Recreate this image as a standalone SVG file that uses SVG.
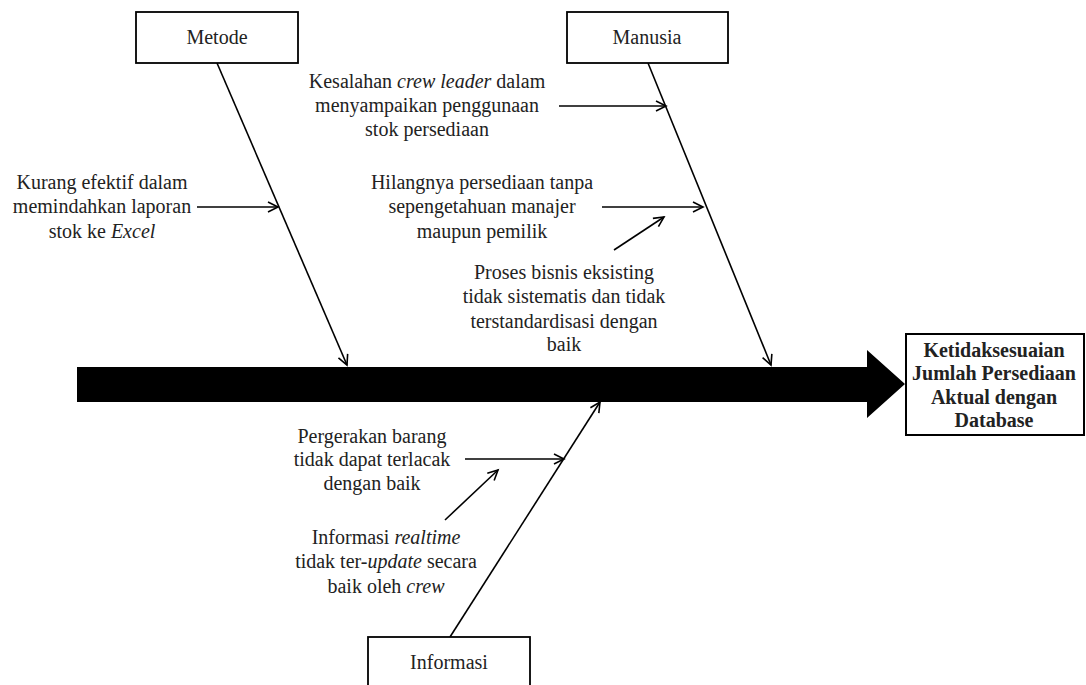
<svg xmlns="http://www.w3.org/2000/svg" width="1086" height="685" viewBox="0 0 1086 685">
<style>
.box{fill:#fff;stroke:#000;stroke-width:1.8}
.lbl{font-family:"Liberation Serif","Times New Roman",serif;font-size:20px;fill:#222;text-anchor:middle}
.eff{font-family:"Liberation Serif","Times New Roman",serif;font-size:20px;font-weight:bold;fill:#222;text-anchor:middle}
.ln{stroke:#000;stroke-width:1.6;fill:none}
.arr{stroke:#000;stroke-width:1.6;fill:none;marker-end:url(#open)}
.it{font-style:italic}
</style>
<defs>
<marker id="open" viewBox="0 0 12 12" refX="11" refY="6" markerWidth="12" markerHeight="12" markerUnits="userSpaceOnUse" orient="auto" overflow="visible">
<path d="M1,1 L11,6 L1,11" fill="none" stroke="#000" stroke-width="1.6"/>
</marker>
</defs>
<g id="spine">
<polygon points="77,367 867,367 867,350 905,384 867,418 867,402 77,402" fill="#000"/>
</g>
<g id="connectors">
<line class="arr" x1="217" y1="63" x2="347" y2="365"/>
<line class="arr" x1="648" y1="63" x2="771" y2="365"/>
<line class="arr" x1="450" y1="637" x2="600" y2="402"/>
<line class="arr" x1="197" y1="207" x2="278" y2="207"/>
<line class="arr" x1="559" y1="106" x2="666" y2="106"/>
<line class="arr" x1="602" y1="207" x2="703" y2="207"/>
<line class="arr" x1="614" y1="250" x2="664" y2="217"/>
<line class="arr" x1="465" y1="459" x2="564" y2="459"/>
<line class="arr" x1="445" y1="520" x2="498" y2="470"/>
</g>
<g id="metode">
<rect class="box" x="136" y="12" width="162" height="51"/>
<text class="lbl" x="217" y="44">Metode</text>
</g>
<g id="manusia">
<rect class="box" x="567" y="12" width="161" height="51"/>
<text class="lbl" x="647" y="44">Manusia</text>
</g>
<g id="informasi">
<rect class="box" x="368" y="637" width="162" height="60"/>
<text class="lbl" x="449" y="669">Informasi</text>
</g>
<g id="effect">
<rect class="box" x="906" y="334" width="178" height="101" style="stroke-width:2"/>
<text class="eff" x="994" y="357">Ketidaksesuaian</text>
<text class="eff" x="994" y="380">Jumlah Persediaan</text>
<text class="eff" x="994" y="404">Aktual dengan</text>
<text class="eff" x="994" y="427">Database</text>
</g>
<g id="cause-kurang">
<text class="lbl" x="102" y="189">Kurang efektif dalam</text>
<text class="lbl" x="102" y="213">memindahkan laporan</text>
<text class="lbl" x="102" y="238">stok ke <tspan class="it">Excel</tspan></text>
</g>
<g id="cause-kesalahan">
<text class="lbl" x="427" y="88">Kesalahan <tspan class="it">crew leader</tspan> dalam</text>
<text class="lbl" x="427" y="112">menyampaikan penggunaan</text>
<text class="lbl" x="427" y="136">stok persediaan</text>
</g>
<g id="cause-hilangnya">
<text class="lbl" x="482" y="189">Hilangnya persediaan tanpa</text>
<text class="lbl" x="482" y="213">sepengetahuan manajer</text>
<text class="lbl" x="482" y="238">maupun pemilik</text>
</g>
<g id="cause-proses">
<text class="lbl" x="564" y="279">Proses bisnis eksisting</text>
<text class="lbl" x="564" y="303">tidak sistematis dan tidak</text>
<text class="lbl" x="564" y="328">terstandardisasi dengan</text>
<text class="lbl" x="564" y="351">baik</text>
</g>
<g id="cause-pergerakan">
<text class="lbl" x="372" y="443">Pergerakan barang</text>
<text class="lbl" x="372" y="466">tidak dapat terlacak</text>
<text class="lbl" x="372" y="490">dengan baik</text>
</g>
<g id="cause-realtime">
<text class="lbl" x="386" y="544">Informasi <tspan class="it">realtime</tspan></text>
<text class="lbl" x="386" y="568">tidak ter-<tspan class="it">update</tspan> secara</text>
<text class="lbl" x="386" y="593">baik oleh <tspan class="it">crew</tspan></text>
</g>
</svg>
